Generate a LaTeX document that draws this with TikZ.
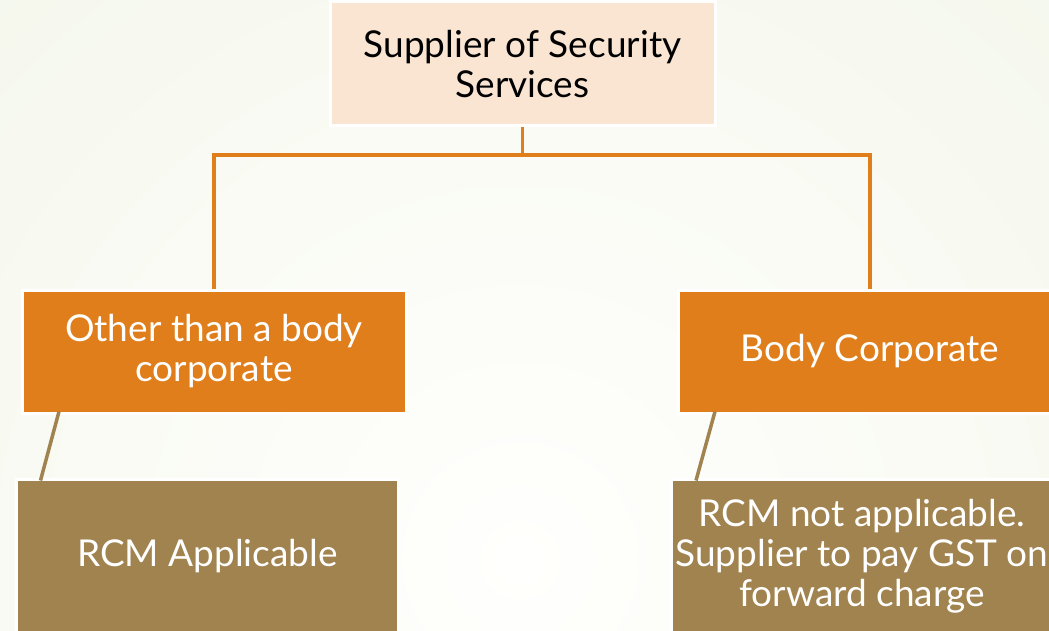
\documentclass[tikz,border=0pt]{standalone}
\usepackage{fontspec}
\setmainfont{Lato}
\definecolor{bgedge}{HTML}{ECF1DF}
\definecolor{bgmid}{HTML}{FFFFFD}
\definecolor{peach}{HTML}{FAE5D3}
\definecolor{orangebox}{HTML}{DF7E1A}
\definecolor{khaki}{HTML}{A0834F}
\tikzset{
  boxbase/.style={draw=white, line width=3pt, rectangle, inner sep=0pt, align=center,
    font=\fontsize{37}{40}\selectfont},
  rootbox/.style={boxbase, fill=peach, text=black, minimum width=385pt, minimum height=124pt},
  midbox/.style={boxbase, fill=orangebox, text=white, minimum width=384pt, minimum height=123pt},
  leafbox/.style={boxbase, fill=khaki, text=white, minimum width=382pt, minimum height=154pt},
  tree/.style={draw=orangebox, line width=3.5pt},
  twig/.style={draw=khaki, line width=3.5pt}
}
\begin{document}
\begin{tikzpicture}[x=1pt, y=-1pt]
  % page and background glow
  \useasboundingbox (0,0) rectangle (1049,631);
  \begin{scope}
    \clip (0,0) rectangle (1049,631);
    \shade[inner color=bgmid, outer color=bgedge] (520,560) circle (1500);
  \end{scope}

  % boxes
  \node[rootbox] (root) at (522.5,64) {Supplier of Security\\Services};
  \node[midbox] (other) at (214,351.5) {Other than a body\\corporate};
  \node[midbox] (corp) at (870,351.5) {Body Corporate};
  \node[leafbox] (rcm) at (207.5,556) {RCM Applicable};
  \node[leafbox] (fwd) at (862,556) {RCM not applicable.\\Supplier to pay GST on\\forward charge};

  % orange tree connectors
  \coordinate (hub) at (root.south |- 0,155);
  \draw[tree] (root.south) -- (hub);
  \draw[tree] (other.north) |- (hub) -| (corp.north);

  % khaki links to the result boxes
  \draw[twig] ([xshift=-155pt,yshift=3pt]other.south) -- ([xshift=-167pt,yshift=-3pt]rcm.north);
  \draw[twig] ([xshift=-155pt,yshift=3pt]corp.south) -- ([xshift=-166pt,yshift=-3pt]fwd.north);
\end{tikzpicture}
\end{document}
